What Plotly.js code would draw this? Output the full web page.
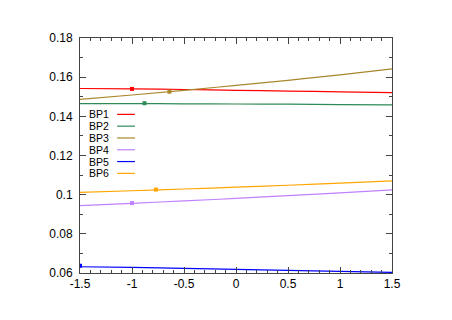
<!DOCTYPE html>
<html>
<head>
<meta charset="utf-8">
<script src="https://cdn.plot.ly/plotly-3.0.1.min.js"></script>
<style>html,body{margin:0;padding:0;background:#fff;}#chart{width:452px;height:320px;}</style>
</head>
<body>
<div id="chart"></div>
<script>
const seriesNames = ['BP1', 'BP2', 'BP3', 'BP4', 'BP5', 'BP6'];
const seriesColors = ['#ff0000', '#2e8b57', '#a8862a', '#c080ff', '#0000ff', '#ffa500'];
const xValues = [-1.5, -1, -0.5, 0, 0.5, 1, 1.5];
const bp1 = [0.1542, 0.1540, 0.1537, 0.1533, 0.1529, 0.1525, 0.1521];
const bp2 = [0.1465, 0.1465, 0.1464, 0.1463, 0.1462, 0.1460, 0.1458];
const bp3 = [0.1487, 0.1509, 0.1533, 0.1558, 0.1584, 0.1612, 0.1642];
const bp4 = [0.0944, 0.0956, 0.0968, 0.0981, 0.0995, 0.1009, 0.1024];
const bp5 = [0.0632, 0.0629, 0.0624, 0.0619, 0.0613, 0.0608, 0.0603];
const bp6 = [0.1012, 0.1020, 0.1029, 0.1038, 0.1048, 0.1059, 0.1070];
const markerX = [-1.0, -0.88, -0.64, -1.0, -1.5, -0.77];
const markerY = [0.1540, 0.1467, 0.1526, 0.0957, 0.0637, 0.1026];
const xTickVals = [-1.5, -1, -0.5, 0, 0.5, 1, 1.5];
const xTickText = ['-1.5', '-1', '-0.5', '0', '0.5', '1', '1.5'];
const yTickVals = [0.06, 0.08, 0.1, 0.12, 0.14, 0.16, 0.18];
const yTickText = ['0.06', '0.08', '0.1', '0.12', '0.14', '0.16', '0.18'];

const allSeries = [bp1, bp2, bp3, bp4, bp5, bp6];
const traces = [];
allSeries.forEach((ys, i) => {
  traces.push({x: xValues, y: ys, type: 'scatter', mode: 'lines', line: {color: seriesColors[i], width: 1.2, shape: 'spline'}, showlegend: false, hoverinfo: 'skip'});
  traces.push({x: [markerX[i]], y: [markerY[i]], type: 'scatter', mode: 'markers', marker: {color: seriesColors[i], size: 4, symbol: 'square'}, showlegend: false, hoverinfo: 'skip'});
});

const font = {family: '"Liberation Sans", Arial, sans-serif', size: 12, color: '#000'};
const legendFont = {family: '"Liberation Sans", Arial, sans-serif', size: 10.5, color: '#000'};
const annotations = [];
const shapes = [];
seriesNames.forEach((n, i) => {
  const yy = 0.675 - i * 0.0502;
  annotations.push({xref: 'paper', yref: 'paper', x: 0.026, y: yy, text: n, showarrow: false, xanchor: 'left', yanchor: 'middle', font: legendFont, borderpad: 0});
  shapes.push({type: 'line', xref: 'paper', yref: 'paper', x0: 0.119, x1: 0.176, y0: yy, y1: yy, line: {color: seriesColors[i], width: 1.2}});
});

const axisCommon = {
  showgrid: false, zeroline: false, showline: true, linecolor: '#444', linewidth: 1,
  mirror: 'allticks', ticks: 'inside', ticklen: 6, tickcolor: '#444', tickwidth: 1,
  tickfont: font, tickmode: 'array'
};
const layout = {
  width: 452, height: 320,
  margin: {l: 80, r: 60, t: 38, b: 47},
  paper_bgcolor: '#fff', plot_bgcolor: '#fff',
  font: font,
  xaxis: Object.assign({}, axisCommon, {range: [-1.5, 1.5], tickvals: xTickVals, ticktext: xTickText,
    minor: {ticks: 'inside', ticklen: 3, tickcolor: '#444', dtick: 0.1, tick0: -1.5, showgrid: false}}),
  yaxis: Object.assign({}, axisCommon, {range: [0.06, 0.18], tickvals: yTickVals, ticktext: yTickText, ticklabelstandoff: 4,
    minor: {ticks: 'inside', ticklen: 3, tickcolor: '#444', dtick: 0.01, tick0: 0.06, showgrid: false}}),
  annotations: annotations,
  shapes: shapes,
  showlegend: false
};
Plotly.newPlot('chart', traces, layout, {staticPlot: true, displayModeBar: false});
</script>
</body>
</html>
